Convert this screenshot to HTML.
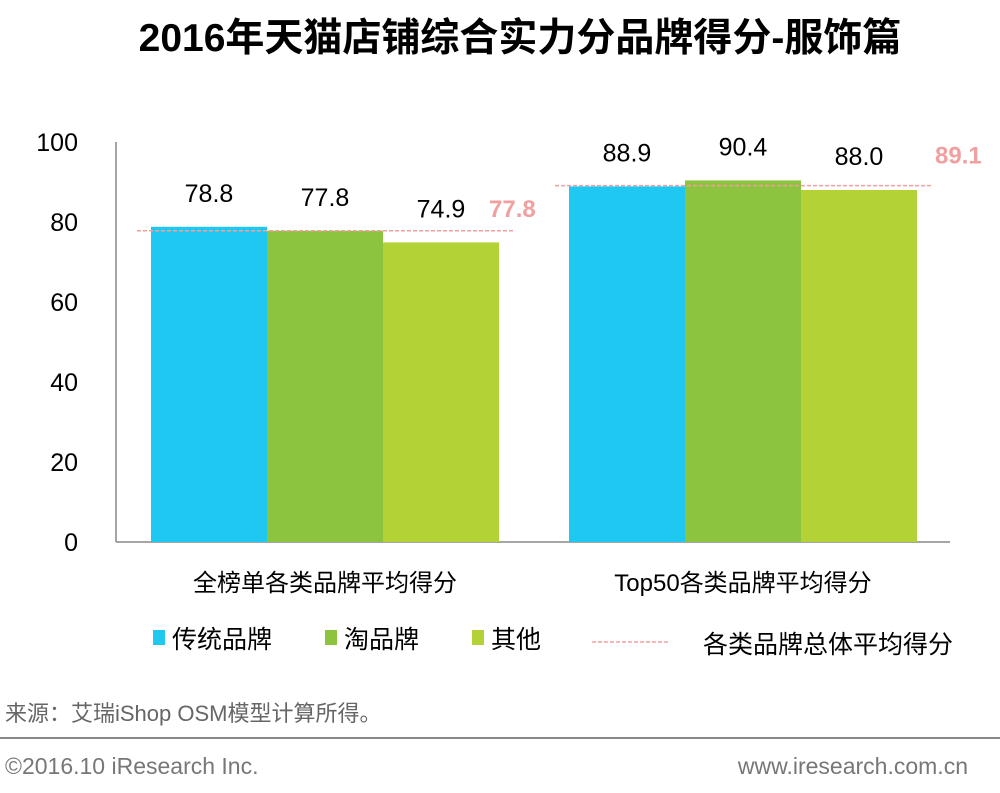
<!DOCTYPE html>
<html><head><meta charset="utf-8">
<style>
body{margin:0;background:#fff;width:1000px;height:788px;overflow:hidden;font-family:"Liberation Sans","Noto Sans CJK SC",sans-serif;}
svg text{font-family:"Liberation Sans","Noto Sans CJK SC",sans-serif;}
</style></head>
<body>
<svg id="chart" width="1000" height="788" xmlns="http://www.w3.org/2000/svg">
<text x="520" y="51" text-anchor="middle" font-size="39" font-weight="bold" fill="#000">2016年天猫店铺综合实力分品牌得分-服饰篇</text>
<g id="axes"></g>
<g id="bars"></g>
<g id="legend">
<rect x="153" y="630" width="12" height="15" fill="#1fc8f0"/>
<text x="172" y="648" font-size="25">传统品牌</text>
<rect x="325" y="630" width="12" height="15" fill="#8cc43f"/>
<text x="344" y="648" font-size="25">淘品牌</text>
<rect x="472" y="630" width="12" height="15" fill="#b3d236"/>
<text x="491" y="648" font-size="25">其他</text>
<line x1="592" y1="642" x2="670" y2="642" stroke="#f0a0a0" stroke-width="1.5" stroke-dasharray="4,2"/>
<text x="703" y="653" font-size="25">各类品牌总体平均得分</text>
</g>
<text x="5" y="721" font-size="22" fill="#666">来源：艾瑞iShop OSM模型计算所得。</text>
<line x1="0" y1="738" x2="1000" y2="738" stroke="#888" stroke-width="2"/>
<text x="5" y="774" font-size="23" fill="#777">©2016.10 iResearch Inc.</text>
<text x="968" y="774" font-size="23" fill="#777" text-anchor="end">www.iresearch.com.cn</text>
</svg>
<script>
const categories = ["全榜单各类品牌平均得分", "Top50各类品牌平均得分"];
const traditional = [78.8, 88.9];
const taobao = [77.8, 90.4];
const other = [74.9, 88.0];
const averages = [77.8, 89.1];
const yTicks = [0, 20, 40, 60, 80, 100];

const NS = "http://www.w3.org/2000/svg";
const y0 = 542, yTop = 142, axisX = 116;
const y = v => y0 - (v / 100) * (y0 - yTop);
const groupStart = [151, 569];
const avgLabelDx = [-10, 18];
const avgLabelDy = [-14, -22];
const barW = 116;
const series = [traditional, taobao, other];
const colors = ["#1fc8f0", "#8cc43f", "#b3d236"];
const seriesNames = ["traditional", "taobao", "other"];
function mk(tag, attrs, parent, txt) {
  const e = document.createElementNS(NS, tag);
  for (const k in attrs) e.setAttribute(k, attrs[k]);
  if (txt !== undefined) e.textContent = txt;
  parent.appendChild(e);
  return e;
}
const axes = document.getElementById("axes");
const bars = document.getElementById("bars");
let e = mk("line", {x1: axisX, y1: yTop, x2: axisX, y2: y0, stroke: "#888", "stroke-width": 1.5}, axes);


e = mk("line", {x1: axisX, y1: y0, x2: 950, y2: y0, stroke: "#888", "stroke-width": 1.5}, axes);


yTicks.forEach(t => {
  const el = mk("text", {x: 78, y: y(t) + 9, "font-size": 25, "text-anchor": "end"}, axes, t);
  
  
});
categories.forEach((c, i) => {
  const gx = groupStart[i];
  const el = mk("text", {x: gx + barW * 1.5, y: 591, "font-size": 24, "text-anchor": "middle"}, axes, c);
  
  
  series.forEach((s, j) => {
    const r = mk("rect", {x: gx + j * barW, y: y(s[i]), width: barW, height: y0 - y(s[i]), fill: colors[j]}, bars);
    
    
    const t = mk("text", {x: gx + j * barW + barW / 2, y: y(s[i]) - 25, "font-size": 25, "text-anchor": "middle"}, bars, s[i].toFixed(1));
    
    
  });
  const a = averages[i];
  const l = mk("line", {x1: gx - 14, y1: y(a), x2: gx + barW * 3 + 16, y2: y(a), stroke: "#f0a0a0", "stroke-width": 1.5, "stroke-dasharray": "4,2"}, bars);
  
  
  const at = mk("text", {x: gx + barW * 3 + avgLabelDx[i], y: y(a) + avgLabelDy[i], "font-size": 24, "font-weight": "bold", fill: "#f0a0a0"}, bars, a.toFixed(1));
  
  
});
</script>
</body></html>
